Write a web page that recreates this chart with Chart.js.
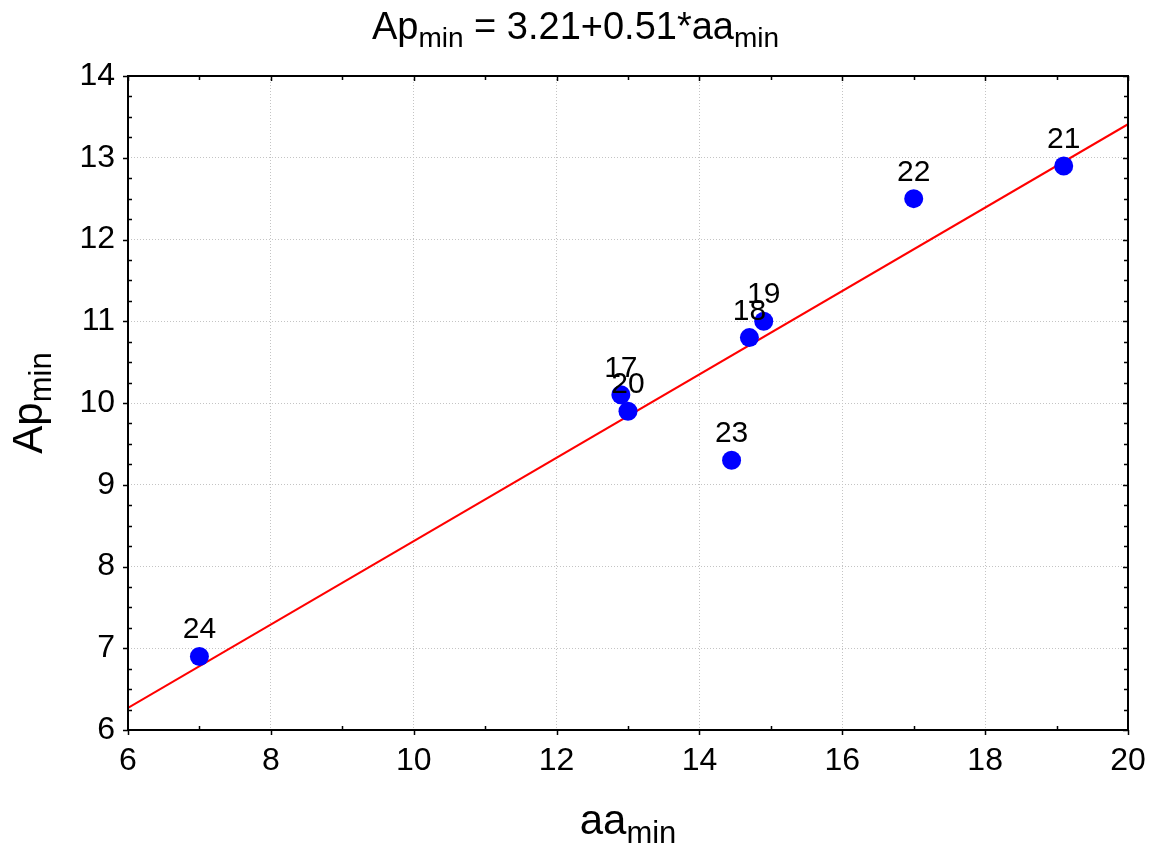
<!DOCTYPE html>
<html>
<head>
<meta charset="utf-8">
<script src="https://cdn.jsdelivr.net/npm/chart.js@4.4.0/dist/chart.umd.min.js"></script>
<style>
  html, body { margin: 0; padding: 0; background: #fff; }
  #wrap { width: 1151px; height: 845px; }
</style>
</head>
<body>
<div id="wrap"><canvas id="fitchart" width="1151" height="845"></canvas></div>
<script>
// observations
var pointIds = ['17', '18', '19', '20', '21', '22', '23', '24'];
var aaMin = [12.9, 14.7, 14.9, 13.0, 19.1, 17.0, 14.45, 7.0];
var apMin = [10.1, 10.8, 11.0, 9.9, 12.9, 12.5, 9.3, 6.9];

// fitted line end points (Ap = 3.21 + 0.51*aa)
var fitX = [6, 20];
var fitY = [6.27, 13.41];

var xTicks = [6, 8, 10, 12, 14, 16, 18, 20];
var yTicks = [6, 7, 8, 9, 10, 11, 12, 13, 14];

var FONT = "'Liberation Sans', Arial, sans-serif";

var toPoints = function (xs, ys) {
    return xs.map(function (x, i) { return { x: x, y: ys[i] }; });
};

// draws text parts with subscripts, centred on cx
var drawSubText = function (ctx, parts, cx, cy, bigSize, smallSize) {
    var total = 0;
    parts.forEach(function (p) {
        ctx.font = (p.sub ? smallSize : bigSize) + 'px ' + FONT;
        p.w = ctx.measureText(p.t).width;
        total += p.w;
    });
    var x = cx - total / 2;
    ctx.textAlign = 'left';
    ctx.textBaseline = 'alphabetic';
    parts.forEach(function (p) {
        ctx.font = (p.sub ? smallSize : bigSize) + 'px ' + FONT;
        ctx.fillText(p.t, x, cy + (p.sub ? bigSize * 0.22 : 0));
        x += p.w;
    });
};

var decorPlugin = {
    id: 'decor',
    afterDatasetsDraw: function (chart) {
        var ctx = chart.ctx;
        var xs = chart.scales.x, ys = chart.scales.y;
        var a = chart.chartArea;
        ctx.save();

        // point labels
        ctx.fillStyle = '#000';
        ctx.font = '30px ' + FONT;
        ctx.textAlign = 'center';
        ctx.textBaseline = 'alphabetic';
        pointIds.forEach(function (id, i) {
            ctx.fillText(id, xs.getPixelForValue(aaMin[i]), ys.getPixelForValue(apMin[i]) - 18);
        });

        // frame
        ctx.strokeStyle = '#000';
        ctx.lineWidth = 2;
        ctx.strokeRect(a.left, a.top, a.right - a.left, a.bottom - a.top);

        // ticks
        ctx.lineWidth = 1.5;
        ctx.beginPath();
        for (var v = 6; v <= 20; v += 1) {
            var px = Math.round(xs.getPixelForValue(v)) + 0.5;
            var major = v % 2 === 0;
            if (major) {
                ctx.moveTo(px, a.bottom); ctx.lineTo(px, a.bottom + 5);
            } else {
                ctx.moveTo(px, a.bottom); ctx.lineTo(px, a.bottom - 4);
            }
            ctx.moveTo(px, a.top); ctx.lineTo(px, a.top + (major ? 5 : 4));
        }
        for (var w = 6; w <= 14.001; w += 0.25) {
            var py = Math.round(ys.getPixelForValue(w)) + 0.5;
            var majorY = Math.abs(w - Math.round(w)) < 0.01;
            if (majorY) {
                ctx.moveTo(a.left - 5, py); ctx.lineTo(a.left, py);
            } else {
                ctx.moveTo(a.left, py); ctx.lineTo(a.left + 4, py);
            }
            ctx.moveTo(a.right, py); ctx.lineTo(a.right - (majorY ? 5 : 4), py);
        }
        ctx.stroke();

        // title
        ctx.fillStyle = '#000';
        drawSubText(ctx, [
            { t: 'Ap' }, { t: 'min', sub: true }, { t: ' = 3.21+0.51*aa' }, { t: 'min', sub: true }
        ], chart.width / 2, 39, 38, 28);

        // x axis title
        drawSubText(ctx, [{ t: 'aa' }, { t: 'min', sub: true }], (a.left + a.right) / 2, 834, 42, 31);

        // y axis title
        ctx.save();
        ctx.translate(42, (a.top + a.bottom) / 2);
        ctx.rotate(-Math.PI / 2);
        drawSubText(ctx, [{ t: 'Ap' }, { t: 'min', sub: true }], 0, 0, 42, 31);
        ctx.restore();

        ctx.restore();
    }
};

var ctx = document.getElementById('fitchart').getContext('2d');
var myChart = new Chart(ctx, {
    data: {
        datasets: [{
            type: 'line',
            data: toPoints(fitX, fitY),
            borderColor: '#ff0000',
            borderWidth: 2,
            pointRadius: 0,
            fill: false,
            order: 2
        }, {
            type: 'scatter',
            data: toPoints(aaMin, apMin),
            backgroundColor: '#0000ff',
            borderWidth: 0,
            pointRadius: 9.5,
            order: 1
        }]
    },
    options: {
        responsive: false,
        animation: false,
        events: [],
        layout: {
            padding: { left: 0, top: 76, right: 23, bottom: 0 }
        },
        plugins: {
            legend: { display: false },
            tooltip: { enabled: false }
        },
        scales: {
            x: {
                type: 'linear',
                min: 6,
                max: 20,
                afterBuildTicks: function (scale) {
                    scale.ticks = xTicks.map(function (v) { return { value: v }; });
                },
                afterFit: function (scale) {
                    scale.height = 115;
                    scale.paddingLeft = 0;
                    scale.paddingRight = 0;
                },
                ticks: {
                    color: '#000',
                    font: { family: FONT, size: 32 },
                    padding: 12,
                    maxRotation: 0
                },
                grid: { color: '#c4c4c4', lineWidth: 1, drawTicks: false },
                border: { display: false, dash: [1, 2] }
            },
            y: {
                type: 'linear',
                min: 6,
                max: 14,
                afterBuildTicks: function (scale) {
                    scale.ticks = yTicks.map(function (v) { return { value: v }; });
                },
                afterFit: function (scale) {
                    scale.width = 128;
                    scale.paddingTop = 0;
                    scale.paddingBottom = 0;
                },
                ticks: {
                    color: '#000',
                    font: { family: FONT, size: 32 },
                    padding: 13
                },
                grid: { color: '#c4c4c4', lineWidth: 1, drawTicks: false },
                border: { display: false, dash: [1, 2] }
            }
        }
    },
    plugins: [decorPlugin]
});
</script>
</body>
</html>
